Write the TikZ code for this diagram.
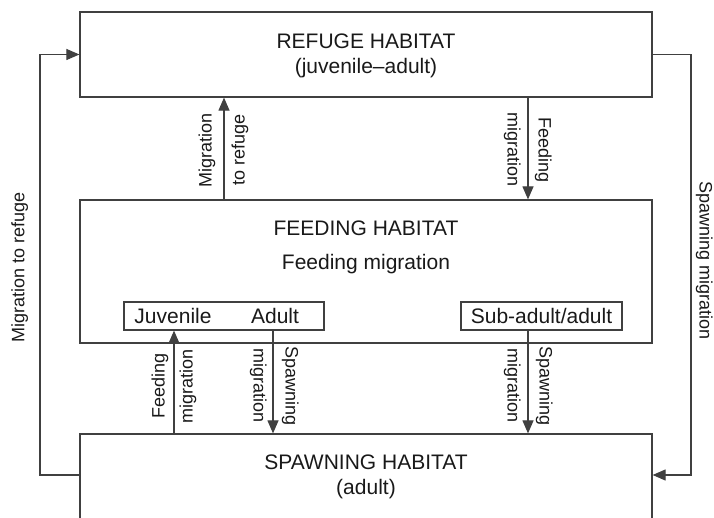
\documentclass[tikz,border=0pt]{standalone}
\usepackage{fontspec}
\setmainfont{Liberation Sans}
\usetikzlibrary{arrows.meta}
\begin{document}
\begin{tikzpicture}[x=1pt,y=1pt,
  box/.style={draw=black!75, line width=1.2pt, inner sep=0pt},
  big/.style={font=\fontsize{21}{25}\selectfont, text=black!90, align=center, inner sep=0pt},
  lbl/.style={font=\fontsize{18}{21}\selectfont, text=black!90, inner sep=0pt, text height=13pt, text depth=4pt},
  conn/.style={draw=black!75, line width=1.1pt},
  arr/.style={conn, -{Triangle[length=13pt,width=11pt]}}]
\useasboundingbox (0,0) rectangle (714,517);
\clip (0,0) rectangle (714,517);
% boxes
\node[box, minimum width=572pt, minimum height=85pt] (top) at (366,462.5) {};
\node[big] (toplbl) at (366,461) {REFUGE HABITAT\\(juvenile–adult)};
\node[box, minimum width=572pt, minimum height=143pt] (feed) at (366,245.5) {};
\node[big] (feedlbl) at (366,289) {FEEDING HABITAT};
\node[big] (feedmig) at (366,253) {Feeding migration};
\node[box, minimum width=200pt, minimum height=28pt] (juv) at (224,201) {};
\node[big] (juvlbl) at (173,201) {Juvenile};
\node[big] (adlbl) at (275,201) {Adult};
\node[box, minimum width=161pt, minimum height=28pt] (sub) at (541.5,201) {};
\node[big] (sublbl) at (541.5,201) {Sub-adult/adult};
\node[box, minimum width=572pt, minimum height=166pt] (spawn) at (366,0) {};
\node[big] (spawnlbl) at (366,40.5) {SPAWNING HABITAT\\(adult)};
% coordinates for vertical connectors
\coordinate (xa) at (224,0);
\coordinate (xb) at (528,0);
\coordinate (xc) at (174,0);
\coordinate (xd) at (273,0);
\coordinate (lc) at (40,42);
\coordinate (rc) at (691,42);
% connectors
\draw[arr] (feed.north -| xa) -- (top.south -| xa);
\draw[arr] (top.south -| xb) -- (feed.north -| xb);
\draw[arr] (spawn.north -| xc) -- (juv.south -| xc);
\draw[arr] (juv.south -| xd) -- (spawn.north -| xd);
\draw[arr] (sub.south -| xb) -- (spawn.north -| xb);
\draw[arr] (spawn.west |- lc) -- (lc) |- (top.west);
\draw[arr] (top.east) -| (rc) -- (spawn.east |- rc);
% labels
\node[lbl, rotate=90] (l1) at (20,250) {Migration to refuge};
\node[lbl, rotate=-90] (l2) at (704,256) {Spawning migration};
\node[lbl, rotate=90] (l3) at (207,367) {Migration};
\node[lbl, rotate=90] (l4) at (240,367) {to refuge};
\node[lbl, rotate=-90] (l5) at (543,367) {Feeding};
\node[lbl, rotate=-90] (l6) at (512,367) {migration};
\node[lbl, rotate=90] (l7) at (160,131) {Feeding};
\node[lbl, rotate=90] (l8) at (188,131) {migration};
\node[lbl, rotate=-90] (l9) at (290,131) {Spawning};
\node[lbl, rotate=-90] (l10) at (258,131) {migration};
\node[lbl, rotate=-90] (l11) at (544,131) {Spawning};
\node[lbl, rotate=-90] (l12) at (512,131) {migration};
\end{tikzpicture}
\end{document}
